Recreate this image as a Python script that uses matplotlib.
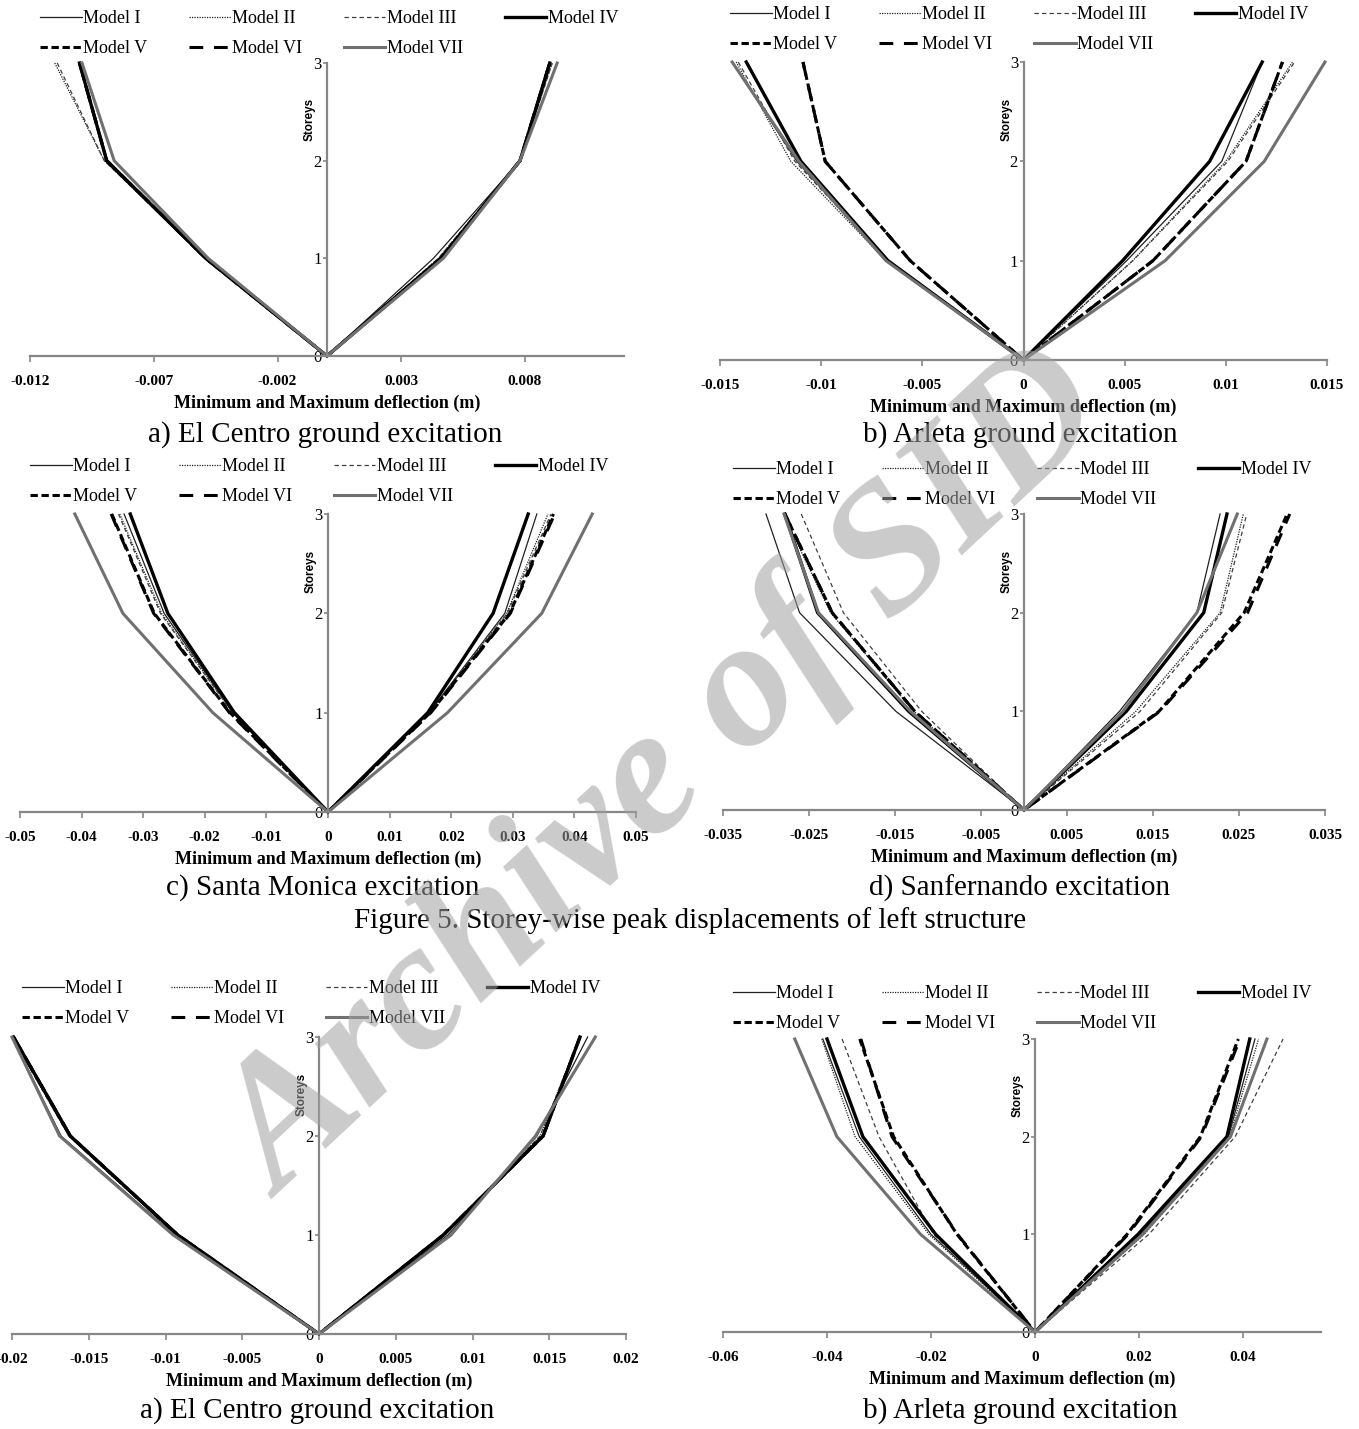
import numpy as np
import matplotlib
matplotlib.use("Agg")
import matplotlib.pyplot as plt
from matplotlib.font_manager import FontProperties

# ---- data: peak storey displacements (m), storeys 1..3, models I..VII ----
models = ["Model I", "Model II", "Model III", "Model IV", "Model V", "Model VI", "Model VII"]
storeys = [1, 2, 3]

# a) El Centro (left structure)
a_min = [[-0.0049, -0.0089, -0.0100], [-0.0049, -0.0090, -0.0110], [-0.0049, -0.0090, -0.0109],
         [-0.0049, -0.0089, -0.0100], [-0.0049, -0.0089, -0.0100], [-0.0049, -0.0089, -0.0100],
         [-0.0048, -0.0086, -0.0099]]
a_max = [[0.0043, 0.0078, 0.0090], [0.0045, 0.0078, 0.0091], [0.0045, 0.0078, 0.0091],
         [0.0046, 0.0078, 0.0090], [0.0046, 0.0078, 0.0090], [0.0046, 0.0078, 0.0090],
         [0.0047, 0.0078, 0.0093]]
# b) Arleta (left structure)
b_min = [[-0.0068, -0.0112, -0.0144], [-0.0068, -0.0115, -0.0142], [-0.0067, -0.0113, -0.0141],
         [-0.0067, -0.0110, -0.0137], [-0.0056, -0.0098, -0.0109], [-0.0056, -0.0098, -0.0109],
         [-0.0068, -0.0111, -0.0144]]
b_max = [[0.0051, 0.0098, 0.0118], [0.0054, 0.0100, 0.0133], [0.0054, 0.0101, 0.0134],
         [0.0049, 0.0092, 0.0118], [0.0064, 0.0110, 0.0128], [0.0064, 0.0110, 0.0128],
         [0.0070, 0.0119, 0.0149]]
# c) Santa Monica
c_min = [[-0.0154, -0.0266, -0.0331], [-0.0155, -0.0270, -0.0338], [-0.0155, -0.0272, -0.0340],
         [-0.0152, -0.0260, -0.0321], [-0.0159, -0.0282, -0.0351], [-0.0160, -0.0283, -0.0352],
         [-0.0187, -0.0333, -0.0411]]
c_max = [[0.0164, 0.0287, 0.0339], [0.0165, 0.0290, 0.0357], [0.0165, 0.0291, 0.0362],
         [0.0162, 0.0268, 0.0325], [0.0166, 0.0295, 0.0366], [0.0167, 0.0296, 0.0368],
         [0.0194, 0.0347, 0.0429]]
# d) Sanfernando
d_min = [[-0.0149, -0.0261, -0.0300], [-0.0128, -0.0225, -0.0280], [-0.0119, -0.0210, -0.0259],
         [-0.0134, -0.0240, -0.0278], [-0.0127, -0.0223, -0.0278], [-0.0127, -0.0223, -0.0278],
         [-0.0132, -0.0239, -0.0279]]
d_max = [[0.0111, 0.0201, 0.0228], [0.0130, 0.0228, 0.0255], [0.0135, 0.0230, 0.0259],
         [0.0119, 0.0209, 0.0236], [0.0157, 0.0256, 0.0306], [0.0158, 0.0260, 0.0309],
         [0.0115, 0.0201, 0.0248]]
# e) El Centro (second structure)
e_min = [[-0.0094, -0.0168, -0.0200], [-0.0093, -0.0163, -0.0200], [-0.0093, -0.0163, -0.0200],
         [-0.0092, -0.0162, -0.0199], [-0.0092, -0.0162, -0.0199], [-0.0092, -0.0162, -0.0199],
         [-0.0095, -0.0169, -0.0200]]
e_max = [[0.0084, 0.0142, 0.0175], [0.0082, 0.0144, 0.0170], [0.0082, 0.0144, 0.0170],
         [0.0081, 0.0146, 0.0170], [0.0081, 0.0146, 0.0170], [0.0081, 0.0146, 0.0170],
         [0.0086, 0.0141, 0.0180]]
# f) Arleta (second structure)
f_min = [[-0.0200, -0.0338, -0.0408], [-0.0204, -0.0346, -0.0410], [-0.0195, -0.0300, -0.0371],
         [-0.0191, -0.0331, -0.0400], [-0.0150, -0.0272, -0.0337], [-0.0149, -0.0275, -0.0335],
         [-0.0220, -0.0381, -0.0462]]
f_max = [[0.0203, 0.0372, 0.0423], [0.0210, 0.0374, 0.0430], [0.0219, 0.0385, 0.0477],
         [0.0198, 0.0369, 0.0413], [0.0177, 0.0318, 0.0391], [0.0179, 0.0320, 0.0394],
         [0.0207, 0.0376, 0.0446]]

a_ticks = [-0.012, -0.007, -0.002, 0.003, 0.008]
a_labels = ["-0.012", "-0.007", "-0.002", "0.003", "0.008"]
b_ticks = [-0.015, -0.01, -0.005, 0, 0.005, 0.01, 0.015]
b_labels = ["-0.015", "-0.01", "-0.005", "0", "0.005", "0.01", "0.015"]
c_ticks = [-0.05, -0.04, -0.03, -0.02, -0.01, 0, 0.01, 0.02, 0.03, 0.04, 0.05]
c_labels = ["-0.05", "-0.04", "-0.03", "-0.02", "-0.01", "0", "0.01", "0.02", "0.03", "0.04", "0.05"]
d_ticks = [-0.035, -0.025, -0.015, -0.005, 0.005, 0.015, 0.025, 0.035]
d_labels = ["-0.035", "-0.025", "-0.015", "-0.005", "0.005", "0.015", "0.025", "0.035"]
e_ticks = [-0.02, -0.015, -0.01, -0.005, 0, 0.005, 0.01, 0.015, 0.02]
e_labels = ["-0.02", "-0.015", "-0.01", "-0.005", "0", "0.005", "0.01", "0.015", "0.02"]
f_ticks = [-0.06, -0.04, -0.02, 0, 0.02, 0.04]
f_labels = ["-0.06", "-0.04", "-0.02", "0", "0.02", "0.04"]

captions = ["a) El Centro ground excitation", "b) Arleta ground excitation",
            "c) Santa Monica excitation", "d) Sanfernando excitation",
            "a) El Centro ground excitation", "b) Arleta ground excitation"]
fig_title = "Figure 5. Storey-wise peak displacements of left structure"

# ---- layout (pixels) ----
W, H = 1359, 1429
geoms = [(30, 624, 356, 63), (720, 1327, 360, 62), (20, 636, 812, 514),
         (723, 1325, 810, 514), (12, 626, 1334, 1037), (723, 1321, 1332, 1039)]
xlims = [(-0.012, 0.012), (-0.015, 0.015), (-0.05, 0.05), (-0.035, 0.035), (-0.02, 0.02), (-0.06, 0.055)]
leg_top = [10, 6, 458, 461, 980, 985]
cap_pos = [(325, 435), (1020, 435), (323, 888), (1020, 888), (317, 1411), (1020, 1411)]
storey_lab_y = [2.42, 2.42, 2.42, 2.42, 2.42, 2.42]

styles = [
    dict(color="#202020", lw=0.9, ls="-"),
    dict(color="#202020", lw=0.9, ls=(0, (1, 1))),
    dict(color="#404040", lw=0.9, ls=(0, (3.5, 2.5))),
    dict(color="black", lw=2.4, ls="-"),
    dict(color="black", lw=2.2, ls=(0, (2.4, 1.2))),
    dict(color="black", lw=2.2, ls=(0, (4.5, 3.5))),
    dict(color="#707070", lw=2.2, ls="-"),
]

serif = "Liberation Serif"
axis_grey = "#878787"

fig = plt.figure(figsize=(W / 100, H / 100), dpi=100)

panels = [(a_min, a_max, a_ticks, a_labels), (b_min, b_max, b_ticks, b_labels),
          (c_min, c_max, c_ticks, c_labels), (d_min, d_max, d_ticks, d_labels),
          (e_min, e_max, e_ticks, e_labels), (f_min, f_max, f_ticks, f_labels)]

for p, (mins, maxs, ticks, tlabels) in enumerate(panels):
    x0, x1, yb, yt = geoms[p]
    ax = fig.add_axes([x0 / W, 1 - yb / H, (x1 - x0) / W, (yb - yt) / H])
    handles = []
    for m in range(len(models)):
        xs = list(mins[m][::-1]) + [0] + list(maxs[m])
        ys = storeys[::-1] + [0] + storeys
        st = styles[m]
        h, = ax.plot(xs, ys, color=st["color"], lw=st["lw"], ls=st["ls"],
                     clip_on=False, label=models[m], solid_joinstyle="miter")
        handles.append(h)
    ax.set_xlim(*xlims[p])
    ax.set_ylim(0, 3)
    for s in ["top", "right"]:
        ax.spines[s].set_visible(False)
    ax.spines["left"].set_position(("data", 0))
    for s in ["left", "bottom"]:
        ax.spines[s].set_color(axis_grey)
        ax.spines[s].set_linewidth(1.6)
    ax.set_xticks(ticks)
    ax.set_xticklabels(tlabels, fontfamily=serif, fontweight="bold", fontsize=11)
    ax.set_yticks([0, 1, 2, 3])
    ax.set_yticklabels(["0", "1", "2", "3"], fontfamily=serif, fontsize=12)
    ax.tick_params(axis="x", direction="out", length=4, width=1.2, color=axis_grey, pad=10)
    ax.tick_params(axis="y", direction="out", length=3, width=1.2, color=axis_grey, pad=1)
    ax.patch.set_visible(False)

    ax.annotate("Minimum and Maximum deflection (m)", xy=(0.5, 0), xycoords="axes fraction",
                xytext=(0, -34), textcoords="offset points", ha="center", va="center",
                fontfamily=serif, fontweight="bold", fontsize=13)
    ax.annotate("Storeys", xy=(0, storey_lab_y[p]), xytext=(-8, 0), textcoords="offset points",
                rotation=90, ha="right", va="center", fontfamily="Liberation Sans",
                fontweight="bold", fontsize=8.5)

    # legend in row-major order (matplotlib fills column-wise)
    order = [0, 4, 1, 5, 2, 6, 3]
    fig.legend([handles[i] for i in order], [models[i] for i in order],
               loc="upper left", bbox_to_anchor=((x0 + 10) / W, 1 - leg_top[p] / H),
               ncol=4, frameon=False, borderpad=0, borderaxespad=0,
               handlelength=2.3, handletextpad=0.1, columnspacing=2.3, labelspacing=0.72,
               prop=FontProperties(family=serif, size=13))

    cx, cy = cap_pos[p]
    fig.text(cx / W, 1 - cy / H, captions[p], ha="center", va="center",
             fontfamily=serif, fontsize=21)

fig.text(690 / W, 1 - 921 / H, fig_title, ha="center", va="center", fontfamily=serif, fontsize=21)

# watermark
fig.text(668 / W, 1 - 778 / H, "Archive of SID", ha="center", va="center", rotation=43,
         rotation_mode="anchor", fontfamily=serif, fontweight="bold", style="italic",
         fontsize=132, color="#a0a0a0", alpha=0.55, zorder=10)

fig.savefig("out.png", dpi=100)
